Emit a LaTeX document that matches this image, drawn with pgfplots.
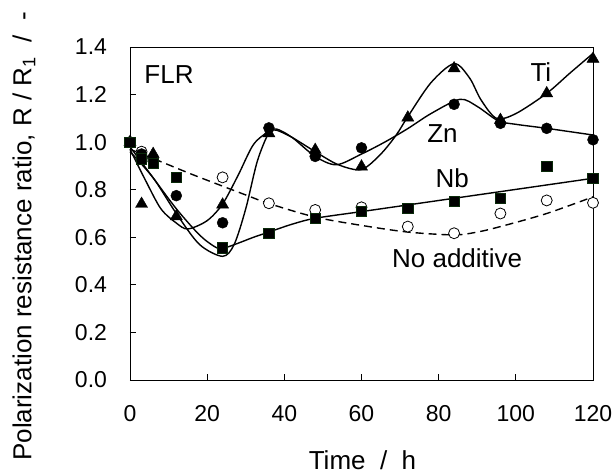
\documentclass[border=0pt]{standalone}
\usepackage{fontspec}
\setmainfont{Liberation Sans}
\usepackage{pgfplots}
\pgfplotsset{compat=1.18}
\newcommand\ft{\fontsize{23}{27}\selectfont}
\newcommand\f{\fontsize{26}{30}\selectfont}
\definecolor{sqedge}{HTML}{0A2A0A}
\begin{document}
\begin{tikzpicture}
\useasboundingbox (-130pt,-95pt) rectangle (485pt,380pt);
\begin{axis}[
  at={(0,0)}, anchor=south west,
  scale only axis, width=463pt, height=333pt,
  xmin=0, xmax=120, ymin=0, ymax=1.4,
  xtick={0,20,...,120}, ytick={0,0.2,...,1.4},
  /pgf/number format/assume math mode=true,
  yticklabel style={/pgf/number format/fixed, /pgf/number format/fixed zerofill, /pgf/number format/precision=1, xshift=-19.5pt},
  xticklabel style={yshift=-22pt},
  tick align=inside, xtick pos=bottom, ytick pos=left,
  major tick length=6pt,
  tick style={black, line width=0.8pt},
  axis line style={line width=0.9pt},
  every tick label/.append style={font=\ft},
  clip=false,
]
% fitted curves
\addplot[black, line width=1.4pt, smooth] coordinates {
 (0,0.97) (4,0.84) (8,0.72) (12,0.66) (15,0.635) (20,0.67) (24,0.74) (28,0.86) (32,0.99) (36,1.045) (38,1.05) (42,1.02) (48,0.96) (54,0.905) (60,0.885) (65,0.95) (69,1.03) (72,1.107) (78,1.25) (84,1.33) (88,1.27) (91,1.177) (95,1.10) (100,1.12) (108,1.205) (114,1.29) (120,1.373)};
\addplot[black, line width=1.4pt, smooth] coordinates {
 (0,0.96) (6,0.85) (12,0.70) (18,0.57) (24,0.52) (27,0.57) (30,0.72) (33,0.92) (36,1.04) (38,1.055) (42,1.02) (48,0.94) (53.5,0.905) (60,0.95) (66,1.0) (72,1.057) (78,1.12) (85.5,1.18) (90,1.15) (95.4,1.09) (100,1.075) (108,1.058) (120,1.03)};
\addplot[black, line width=1.4pt, smooth] coordinates {
 (0,0.98) (6,0.85) (12,0.72) (18,0.61) (22,0.56) (24,0.553) (28,0.575) (32,0.60) (36,0.622) (42,0.655) (48,0.68) (60,0.708) (72,0.736) (84,0.764) (96,0.792) (108,0.82) (120,0.848)};
\addplot[black, line width=1.4pt, dash pattern=on 8pt off 5pt, smooth] coordinates {
 (0,0.97) (8,0.918) (16,0.865) (24,0.815) (30,0.778) (36,0.742) (48,0.685) (60,0.65) (72,0.622) (84,0.61) (90,0.622) (96,0.645) (108,0.70) (120,0.77)};
% data points
\addplot[only marks, mark=*, mark size=5.5pt, mark options={draw=black, fill=white, line width=0.8pt}] coordinates {
 (0,1.0) (3,0.96) (6,0.93) (24,0.852) (36,0.743) (48,0.715) (60,0.726) (72,0.645) (84,0.617) (96,0.70) (108,0.755) (120,0.745)};
\addplot[only marks, mark=*, mark size=5.5pt, mark options={draw=black, fill=black}] coordinates {
 (0,1.0) (3,0.95) (6,0.92) (12,0.775) (24,0.661) (36,1.06) (48,0.94) (60,0.976) (84,1.159) (96,1.079) (108,1.058) (120,1.01)};
\addplot[only marks, mark=triangle*, mark size=7pt, mark options={draw=black, fill=black}] coordinates {
 (0,1.0) (3,0.74) (6,0.95) (12,0.688) (24,0.737) (36,1.037) (48,0.967) (60,0.897) (72,1.103) (84,1.31) (96,1.093) (108,1.205) (120,1.35)};
\addplot[only marks, mark=square*, mark size=5.2pt, mark options={draw=sqedge, fill=black, line width=0.8pt}] coordinates {
 (0,1.0) (3,0.93) (6,0.91) (12,0.852) (24,0.556) (36,0.617) (48,0.68) (60,0.708) (72,0.722) (84,0.75) (96,0.763) (108,0.897) (120,0.848)};
% labels
\node[font=\f] at (axis cs:10.1,1.286) {FLR};
\node[font=\f] at (axis cs:106.5,1.295) {Ti};
\node[font=\f] at (axis cs:81,1.038) {Zn};
\node[font=\f] at (axis cs:83.5,0.849) {Nb};
\node[font=\f] at (axis cs:84.8,0.513) {No additive};
\end{axis}
\node[font=\f, rotate=90] at (-106pt,143.5pt) {Polarization resistance ratio, R / R\textsubscript{1}\ \ /\ \ -};
\node[font=\f, anchor=base] at (232.5pt,-89pt) {Time\ \ /\ \ h};
\end{tikzpicture}
\end{document}
